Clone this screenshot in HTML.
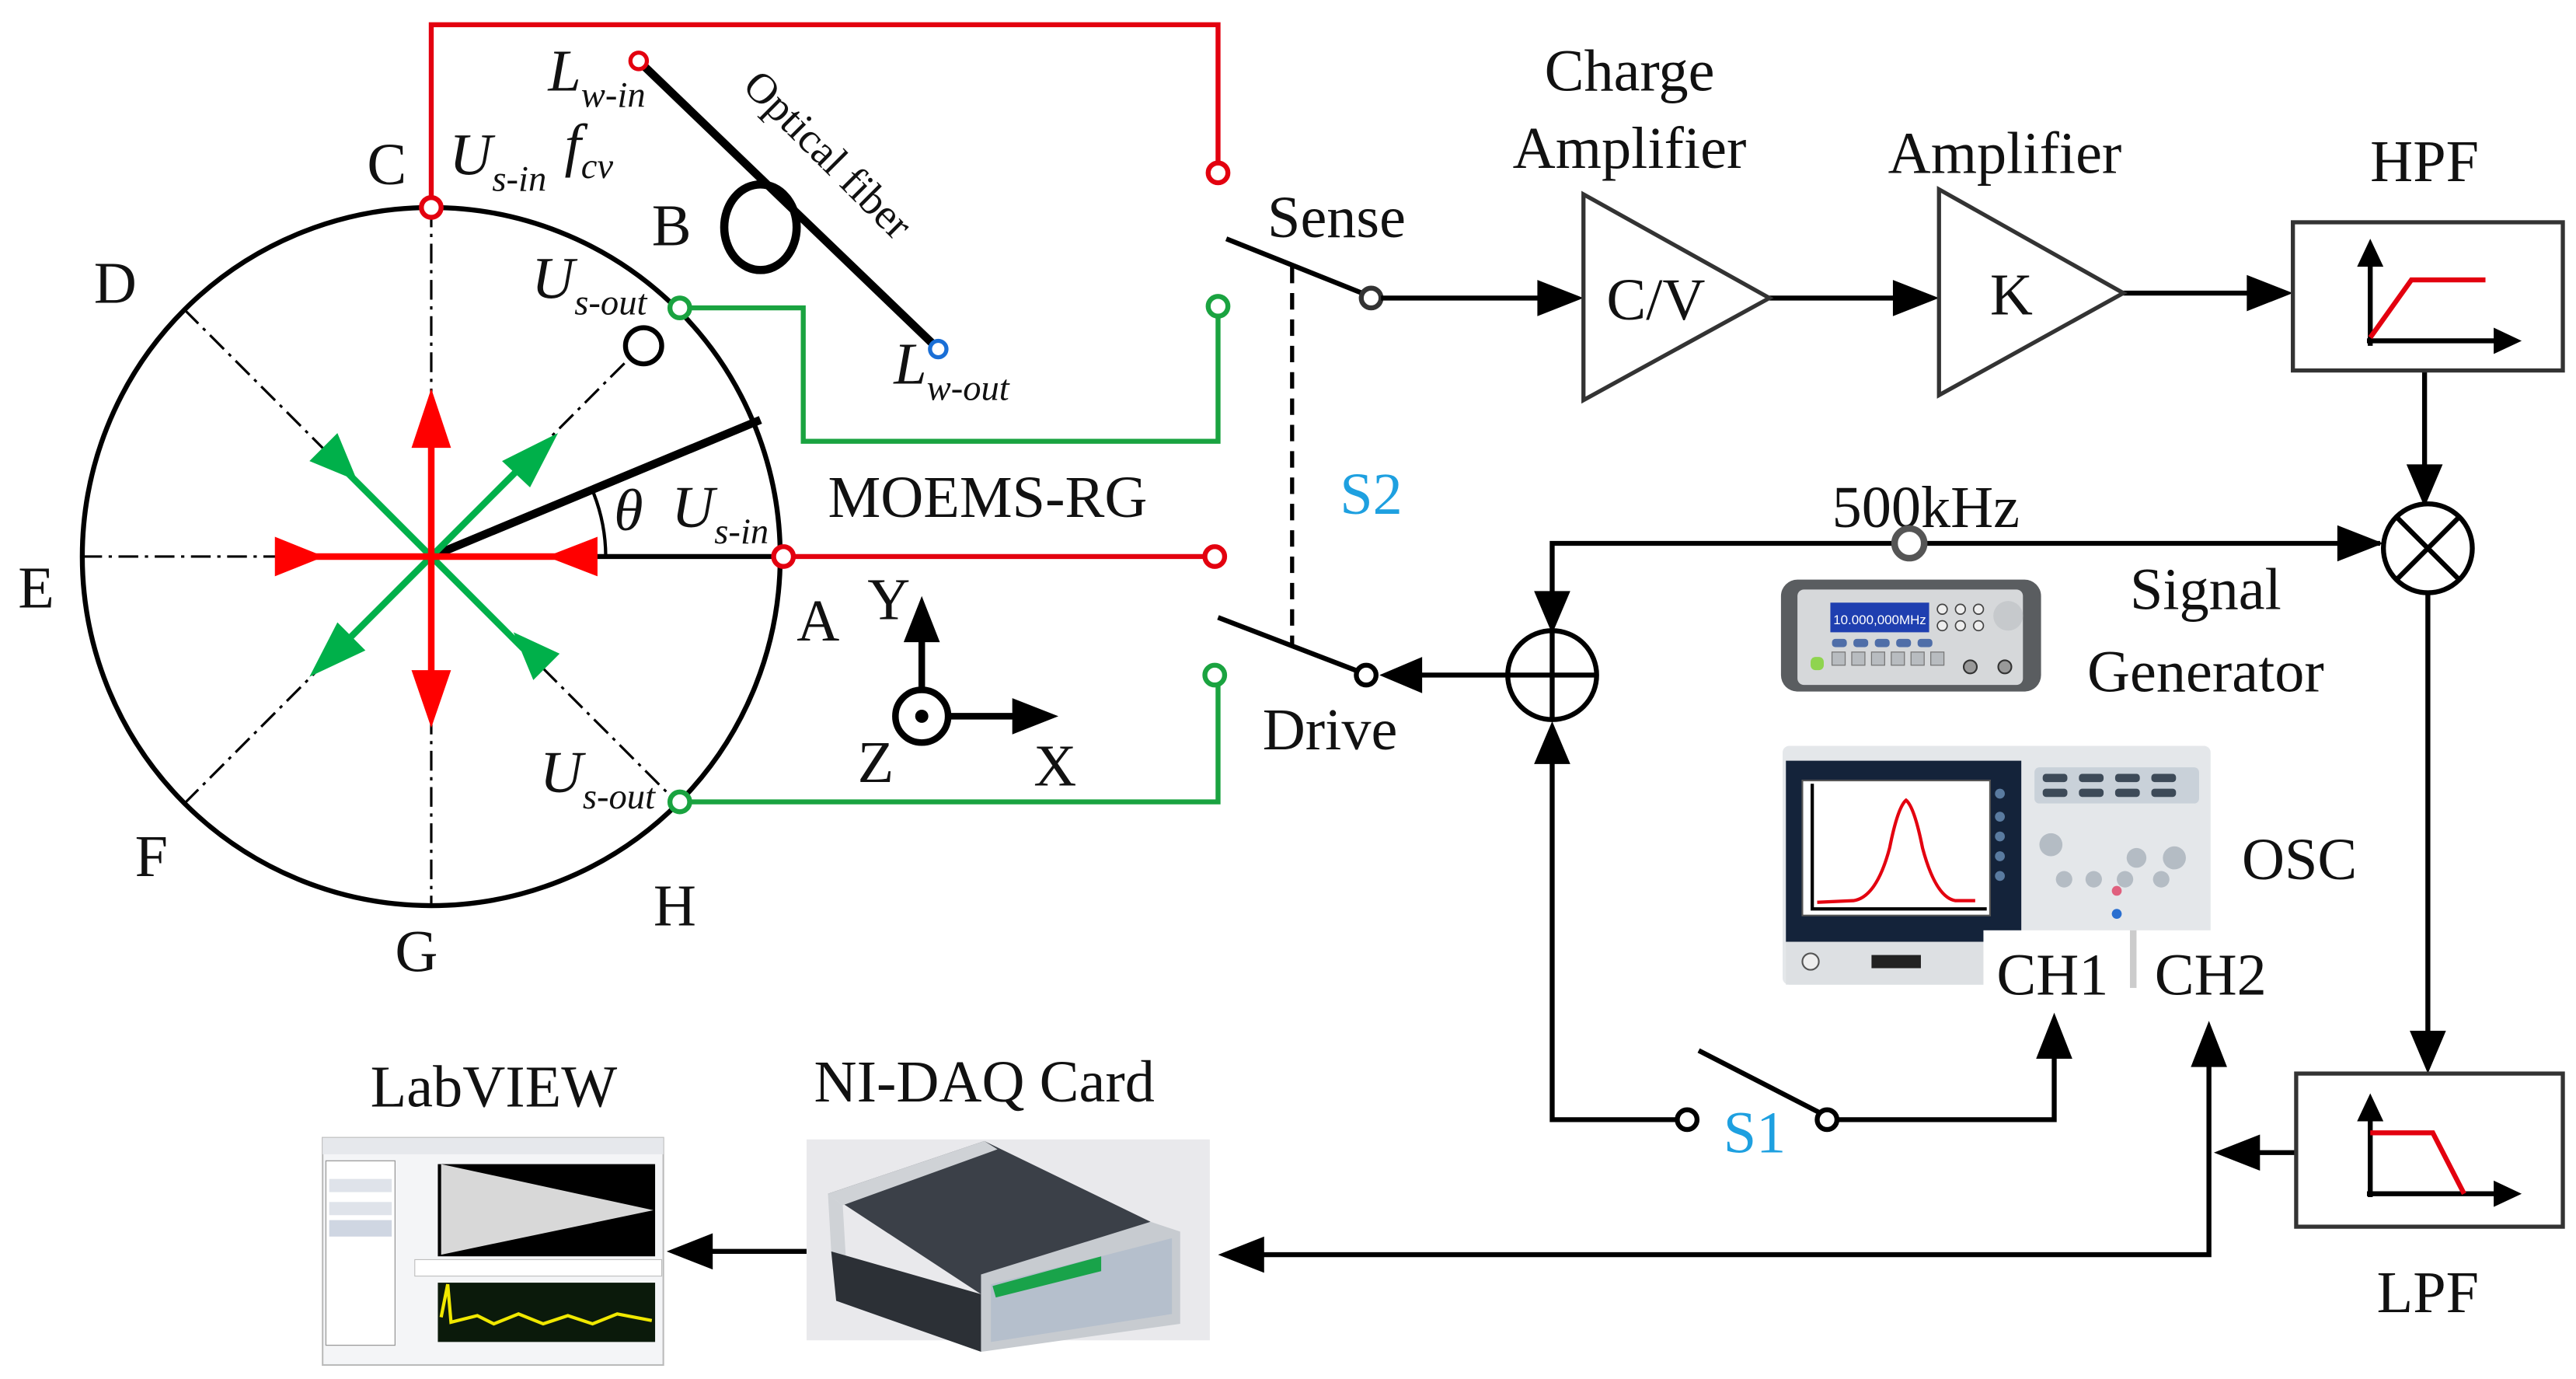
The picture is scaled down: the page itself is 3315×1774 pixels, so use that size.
<!DOCTYPE html>
<html><head><meta charset="utf-8"><style>
html,body{margin:0;padding:0;background:#fff;}
svg{display:block;}
text{font-family:"Liberation Serif",serif;fill:#111;}
.L{font-size:36px;}
.i{font-style:italic;}
</style></head><body>
<svg width="3315" height="1774" viewBox="0 0 1565 837.5" preserveAspectRatio="none" xmlns="http://www.w3.org/2000/svg">
<!-- circle -->
<circle cx="262" cy="338" r="212" fill="none" stroke="#000" stroke-width="3"/>
<g stroke="#000" stroke-width="1.5" stroke-dasharray="12,4,2,4" fill="none">
<line x1="262" y1="126" x2="262" y2="550"/>
<line x1="50" y1="338" x2="476" y2="338"/>
<line x1="112" y1="188" x2="412" y2="488"/>
<line x1="112" y1="488" x2="262" y2="338"/>
<line x1="262" y1="338" x2="390" y2="210"/>
</g>
<circle cx="391" cy="210" r="11" fill="#fff" stroke="#000" stroke-width="3"/>
<line x1="262" y1="338" x2="462" y2="255" stroke="#000" stroke-width="5"/>
<line x1="262" y1="338" x2="476" y2="338" stroke="#000" stroke-width="3"/>
<path d="M368,338 A106,106 0 0 0 360,298" fill="none" stroke="#000" stroke-width="2"/>
<!-- green arrows -->
<g stroke="#00b04a" stroke-width="4">
<line x1="205" y1="281" x2="318" y2="394"/>
<line x1="200" y1="400" x2="325" y2="275"/>
</g>
<g fill="#00b04a">
<polygon points="217,292 205,263 188,280"/>
<polygon points="312,384 340,397 324,413"/>
<polygon points="339,263 305,280 322,296"/>
<polygon points="188,411 205,378 222,395"/>
</g>
<!-- red arrows -->
<g stroke="#ff0000" stroke-width="4">
<line x1="262" y1="248" x2="262" y2="428"/>
<line x1="170" y1="338" x2="360" y2="338"/>
</g>
<g fill="#ff0000">
<polygon points="262,236 250,272 274,272"/>
<polygon points="262,442 250,407 274,407"/>
<polygon points="197,338 167,326 167,350"/>
<polygon points="332,338 363,326 363,350"/>
</g>
<!-- red wiring -->
<polyline points="262,126 262,15 740,15 740,105" fill="none" stroke="#e3000f" stroke-width="3"/>
<line x1="476" y1="338" x2="738" y2="338" stroke="#e3000f" stroke-width="3"/>
<g fill="#fff" stroke="#e3000f" stroke-width="3">
<circle cx="262" cy="126" r="6"/><circle cx="740" cy="105" r="6"/><circle cx="476" cy="338" r="6"/><circle cx="738" cy="338" r="6"/>
</g>
<!-- green wiring -->
<polyline points="413,187 488,187 488,268 740,268 740,186" fill="none" stroke="#1aa340" stroke-width="3"/>
<polyline points="413,487 740,487 740,410" fill="none" stroke="#1aa340" stroke-width="3"/>
<g fill="#fff" stroke="#1aa340" stroke-width="3">
<circle cx="413" cy="187" r="6"/><circle cx="740" cy="186" r="6"/><circle cx="413" cy="487" r="6"/><circle cx="738" cy="410" r="6"/>
</g>
<!-- optical fiber -->
<line x1="388" y1="37" x2="570" y2="212" stroke="#000" stroke-width="5"/>
<ellipse cx="462" cy="138" rx="22" ry="26" fill="none" stroke="#000" stroke-width="5"/>
<circle cx="388" cy="37" r="5" fill="#fff" stroke="#e3000f" stroke-width="2.5"/>
<circle cx="570" cy="212" r="5" fill="#fff" stroke="#1a6fd6" stroke-width="2.5"/>
<text x="497" y="100" font-size="26" transform="rotate(45 497 100)" text-anchor="middle">Optical fiber</text>
<!-- switches -->
<line x1="745" y1="145" x2="830" y2="179" stroke="#000" stroke-width="3"/>
<line x1="740" y1="375" x2="826" y2="408" stroke="#000" stroke-width="3"/>
<line x1="785" y1="162" x2="785" y2="392" stroke="#000" stroke-width="2.5" stroke-dasharray="10,6"/>
<circle cx="833" cy="181" r="6" fill="#fff" stroke="#333" stroke-width="3"/>
<circle cx="830" cy="410" r="6" fill="#fff" stroke="#000" stroke-width="3"/>
<g stroke="#000" stroke-width="3" fill="none">
<line x1="839" y1="181" x2="940" y2="181"/>
<line x1="1075" y1="181" x2="1158" y2="181"/>
<line x1="1290" y1="178" x2="1373" y2="178"/>
<line x1="1473" y1="225" x2="1473" y2="288"/>
<line x1="1475" y1="360" x2="1475" y2="630"/>
<polyline points="1446,330 943,330 943,365"/>
<line x1="916" y1="410" x2="858" y2="410"/>
<polyline points="943,458 943,680 1019,680"/>
<polyline points="1116,680 1248,680 1248,640"/>
<line x1="1395" y1="700" x2="1368" y2="700"/>
<polyline points="1342,640 1342,762 762,762"/>
<line x1="492" y1="760" x2="428" y2="760"/>
<line x1="1032" y1="638" x2="1106" y2="676"/>
</g>
<g fill="#000">
<polygon points="962,181 934,170 934,192"/>
<polygon points="1178,181 1150,170 1150,192"/>
<polygon points="1393,178 1365,167 1365,189"/>
<polygon points="1473,308 1462,282 1484,282"/>
<polygon points="1475,652 1464,626 1486,626"/>
<polygon points="1448,330 1420,319 1420,341"/>
<polygon points="943,385 932,359 954,359"/>
<polygon points="838,410 864,399 864,421"/>
<polygon points="943,438 932,464 954,464"/>
<polygon points="1248,615 1237,643 1259,643"/>
<polygon points="1342,620 1331,648 1353,648"/>
<polygon points="1345,700 1373,689 1373,711"/>
<polygon points="740,762 768,751 768,773"/>
<polygon points="405,760 433,749 433,771"/>
</g>
<circle cx="1025" cy="680" r="6" fill="#fff" stroke="#000" stroke-width="3"/>
<circle cx="1110" cy="680" r="6" fill="#fff" stroke="#000" stroke-width="3"/>
<!-- triangles -->
<polygon points="962,118 962,243 1075,181" fill="none" stroke="#333" stroke-width="2.5"/>
<polygon points="1178,115 1178,240 1290,178" fill="none" stroke="#333" stroke-width="2.5"/>
<!-- HPF / LPF -->
<rect x="1393" y="135" width="164" height="90" fill="none" stroke="#333" stroke-width="2.5"/>
<line x1="1440" y1="210" x2="1440" y2="158" stroke="#000" stroke-width="3"/><polygon points="1440,145 1432,162 1448,162"/>
<line x1="1438" y1="207" x2="1518" y2="207" stroke="#000" stroke-width="3"/><polygon points="1532,207 1515,199 1515,215"/>
<polyline points="1440,205 1465,170 1510,170" fill="none" stroke="#e3000f" stroke-width="3"/>
<rect x="1395" y="652" width="162" height="93" fill="none" stroke="#333" stroke-width="2.5"/>
<line x1="1440" y1="727" x2="1440" y2="677" stroke="#000" stroke-width="3"/><polygon points="1440,664 1432,681 1448,681"/>
<line x1="1438" y1="725" x2="1518" y2="725" stroke="#000" stroke-width="3"/><polygon points="1532,725 1515,717 1515,733"/>
<polyline points="1440,688 1478,688 1497,725" fill="none" stroke="#e3000f" stroke-width="3"/>
<!-- multiplier / adder -->
<circle cx="1475" cy="333" r="27" fill="#fff" stroke="#000" stroke-width="3"/>
<line x1="1456" y1="314" x2="1494" y2="352" stroke="#000" stroke-width="3"/><line x1="1494" y1="314" x2="1456" y2="352" stroke="#000" stroke-width="3"/>
<circle cx="943" cy="410" r="27" fill="#fff" stroke="#000" stroke-width="3"/>
<line x1="916" y1="410" x2="970" y2="410" stroke="#000" stroke-width="3"/><line x1="943" y1="383" x2="943" y2="437" stroke="#000" stroke-width="3"/>
<!-- axes XYZ -->
<line x1="560" y1="420" x2="560" y2="385" stroke="#000" stroke-width="4"/><polygon points="560,362 549,390 571,390"/>
<line x1="577" y1="435" x2="620" y2="435" stroke="#000" stroke-width="4"/><polygon points="643,435 615,424 615,446"/>
<circle cx="560" cy="435" r="16" fill="#fff" stroke="#000" stroke-width="4"/><circle cx="560" cy="435" r="4"/>
<!-- signal generator -->
<rect x="1082" y="352" width="158" height="68" rx="10" fill="#5a5d60"/>
<rect x="1092" y="358" width="137" height="58" rx="4" fill="#d6d8da"/>
<rect x="1112" y="366" width="60" height="18" fill="#1f3fb0"/>
<text x="1142" y="379" font-size="8" text-anchor="middle" style="fill:#fff;font-family:'Liberation Sans',sans-serif">10.000,000MHz</text>
<g fill="#4f6ea8"><rect x="1113" y="388" width="9" height="5" rx="2"/><rect x="1126" y="388" width="9" height="5" rx="2"/><rect x="1139" y="388" width="9" height="5" rx="2"/><rect x="1152" y="388" width="9" height="5" rx="2"/><rect x="1165" y="388" width="9" height="5" rx="2"/></g>
<g fill="#b8bcc0" stroke="#777" stroke-width="0.6"><rect x="1113" y="396" width="8" height="8"/><rect x="1125" y="396" width="8" height="8"/><rect x="1137" y="396" width="8" height="8"/><rect x="1149" y="396" width="8" height="8"/><rect x="1161" y="396" width="8" height="8"/><rect x="1173" y="396" width="8" height="8"/></g>
<g fill="#eee" stroke="#444" stroke-width="0.8"><circle cx="1180" cy="370" r="3"/><circle cx="1191" cy="370" r="3"/><circle cx="1202" cy="370" r="3"/><circle cx="1180" cy="380" r="3"/><circle cx="1191" cy="380" r="3"/><circle cx="1202" cy="380" r="3"/></g>
<circle cx="1220" cy="374" r="9" fill="#c6c9cc"/>
<circle cx="1197" cy="405" r="4" fill="#999" stroke="#333"/><circle cx="1218" cy="405" r="4" fill="#999" stroke="#333"/>
<rect x="1100" y="399" width="8" height="8" rx="3" fill="#8fd44f"/>
<!-- oscilloscope -->
<rect x="1083" y="453" width="260" height="145" rx="4" fill="#e4e7ea"/>
<rect x="1085" y="462" width="143" height="110" fill="#14233a"/>
<rect x="1095" y="474" width="114" height="82" fill="#fff" stroke="#555"/>
<polyline points="1101,476 1101,552 1207,552" fill="none" stroke="#000" stroke-width="2"/>
<path d="M1104,548 L1126,547 Q1140,545 1148,515 Q1153,490 1158,486 Q1163,490 1168,515 Q1176,545 1188,547 L1200,547" fill="none" stroke="#e3000f" stroke-width="2"/>
<g fill="#5a7ba0"><circle cx="1215" cy="482" r="3"/><circle cx="1215" cy="496" r="3"/><circle cx="1215" cy="508" r="3"/><circle cx="1215" cy="520" r="3"/><circle cx="1215" cy="532" r="3"/></g>
<rect x="1236" y="466" width="100" height="22" rx="3" fill="#c9d1d9"/>
<g fill="#3d4a58"><rect x="1241" y="470" width="15" height="5" rx="2"/><rect x="1263" y="470" width="15" height="5" rx="2"/><rect x="1285" y="470" width="15" height="5" rx="2"/><rect x="1307" y="470" width="15" height="5" rx="2"/><rect x="1241" y="479" width="15" height="5" rx="2"/><rect x="1263" y="479" width="15" height="5" rx="2"/><rect x="1285" y="479" width="15" height="5" rx="2"/><rect x="1307" y="479" width="15" height="5" rx="2"/></g>
<g fill="#b4bcc4"><circle cx="1246" cy="513" r="7"/><circle cx="1298" cy="521" r="6"/><circle cx="1321" cy="521" r="7"/><circle cx="1254" cy="534" r="5"/><circle cx="1272" cy="534" r="5"/><circle cx="1291" cy="534" r="5"/><circle cx="1313" cy="534" r="5"/></g>
<circle cx="1286" cy="541" r="3" fill="#e0607e"/><circle cx="1286" cy="555" r="3" fill="#2a6fd0"/>
<rect x="1085" y="572" width="122" height="26" fill="#dde0e3"/>
<rect x="1137" y="580" width="30" height="8" fill="#222"/>
<circle cx="1100" cy="584" r="5" fill="#eee" stroke="#555"/>
<rect x="1205" y="565" width="140" height="45" fill="#fff"/>
<rect x="1294" y="565" width="4" height="35" fill="#ccc"/>
<!-- NI DAQ -->
<rect x="490" y="692" width="245" height="122" fill="#e9e9ec"/>
<polygon points="503,725 598,693 699,742 596,786" fill="#3b4048"/>
<polygon points="503,725 598,693 606,698 512,732" fill="#cfd2d6"/>
<polygon points="503,725 512,732 514,766 505,760" fill="#cfd2d6"/>
<polygon points="505,760 596,786 596,821 508,790" fill="#2c3036"/>
<polygon points="596,774 699,742 717,748 717,804 596,821" fill="#c7cbd0"/>
<polygon points="602,780 712,752 712,798 602,815" fill="#b5bfcc"/>
<polygon points="603,781 669,763 669,772 605,788" fill="#19a34a"/>
<!-- LabVIEW -->
<rect x="196" y="691" width="207" height="138" fill="#f4f5f7" stroke="#bbb"/>
<rect x="196" y="691" width="207" height="10" fill="#e6e8ec"/>
<rect x="198" y="705" width="42" height="112" fill="#fff" stroke="#999" stroke-width="0.6"/>
<rect x="200" y="716" width="38" height="8" fill="#dfe3ea"/>
<rect x="200" y="730" width="38" height="8" fill="#dfe3ea"/>
<rect x="200" y="741" width="38" height="10" fill="#cfd6e2"/>
<rect x="266" y="707" width="132" height="56" fill="#000"/>
<polygon points="268,707 397,735 268,762" fill="#d8d8d8"/>
<rect x="252" y="765" width="150" height="10" fill="#fff" stroke="#bbb" stroke-width="0.5"/>
<rect x="266" y="779" width="132" height="36" fill="#0b1a0b"/>
<path d="M268,800 L272,780 L274,803 L290,799 L300,804 L315,798 L330,804 L345,799 L360,804 L375,798 L396,802" fill="none" stroke="#f0e800" stroke-width="2"/>
<!-- texts -->
<g class="L">
<text x="990" y="55" text-anchor="middle">Charge</text>
<text x="990" y="102" text-anchor="middle">Amplifier</text>
<text x="1218" y="105" text-anchor="middle">Amplifier</text>
<text x="1473" y="110" text-anchor="middle">HPF</text>
<text x="1006" y="194" text-anchor="middle">C/V</text>
<text x="1222" y="191" text-anchor="middle">K</text>
<text x="812" y="144" text-anchor="middle">Sense</text>
<text x="808" y="455" text-anchor="middle">Drive</text>
<text x="600" y="314" text-anchor="middle">MOEMS-RG</text>
<text x="1170" y="320" text-anchor="middle">500kHz</text>
<text x="1340" y="370" text-anchor="middle">Signal</text>
<text x="1340" y="420" text-anchor="middle">Generator</text>
<text x="1397" y="534" text-anchor="middle">OSC</text>
<text x="1247" y="604" text-anchor="middle">CH1</text>
<text x="1343" y="604" text-anchor="middle">CH2</text>
<text x="1475" y="797" text-anchor="middle">LPF</text>
<text x="300" y="672" text-anchor="middle">LabVIEW</text>
<text x="598" y="669" text-anchor="middle">NI-DAQ Card</text>
<text x="833" y="312" text-anchor="middle" style="fill:#1ea0e0">S2</text>
<text x="1066" y="700" text-anchor="middle" style="fill:#1ea0e0">S1</text>
<text x="235" y="112" text-anchor="middle">C</text>
<text x="70" y="184" text-anchor="middle">D</text>
<text x="22" y="369" text-anchor="middle">E</text>
<text x="92" y="532" text-anchor="middle">F</text>
<text x="253" y="590" text-anchor="middle">G</text>
<text x="410" y="562" text-anchor="middle">H</text>
<text x="497" y="389" text-anchor="middle">A</text>
<text x="408" y="149" text-anchor="middle">B</text>
<text x="540" y="376" text-anchor="middle">Y</text>
<text x="641" y="477" text-anchor="middle">X</text>
<text x="532" y="475" text-anchor="middle">Z</text>
</g>
<circle cx="1160" cy="330" r="9" fill="#fff" stroke="#555" stroke-width="4"/>
<g class="L i">
<text x="333" y="55">L<tspan font-size="22" dy="10">w-in</tspan></text>
<text x="343" y="100">f<tspan font-size="22" dy="8">cv</tspan></text>
<text x="273" y="106">U<tspan font-size="22" dy="10">s-in</tspan></text>
<text x="323" y="181">U<tspan font-size="22" dy="10">s-out</tspan></text>
<text x="543" y="233">L<tspan font-size="22" dy="10">w-out</tspan></text>
<text x="373" y="322">θ</text>
<text x="408" y="320">U<tspan font-size="22" dy="10">s-in</tspan></text>
<text x="328" y="481">U<tspan font-size="22" dy="10">s-out</tspan></text>
</g>
</svg>
</body></html>
